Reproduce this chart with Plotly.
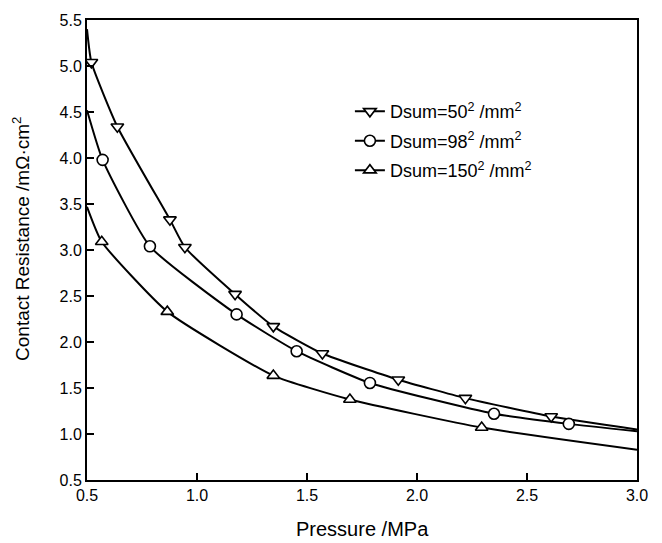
import plotly.graph_objects as go

# Series 1: Dsum=50^2 (down triangles) - curve end points and measured points
x1_curve_ends = [0.50, 3.00]
y1_curve_ends = [5.40, 1.05]
x1 = [0.52, 0.638, 0.877, 0.945, 1.173, 1.347, 1.570, 1.915, 2.22, 2.61]
y1 = [5.04, 4.34, 3.33, 3.03, 2.52, 2.17, 1.875, 1.59, 1.39, 1.19]
# Series 2: Dsum=98^2 (circles)
x2_curve_ends = [0.50, 3.00]
y2_curve_ends = [4.52, 1.03]
x2 = [0.571, 0.786, 1.18, 1.453, 1.786, 2.35, 2.69]
y2 = [3.98, 3.04, 2.30, 1.90, 1.555, 1.22, 1.11]
# Series 3: Dsum=150^2 (up triangles)
x3_curve_ends = [0.50, 3.00]
y3_curve_ends = [3.47, 0.83]
x3 = [0.567, 0.865, 1.347, 1.695, 2.294]
y3 = [3.09, 2.33, 1.635, 1.375, 1.07]

names = ["Dsum=50<sup>2</sup> /mm<sup>2</sup>",
         "Dsum=98<sup>2</sup> /mm<sup>2</sup>",
         "Dsum=150<sup>2</sup> /mm<sup>2</sup>"]
symbols = ["triangle-down", "circle", "triangle-up"]
xticks = [0.5, 1.0, 1.5, 2.0, 2.5, 3.0]
yticks = [0.5, 1.0, 1.5, 2.0, 2.5, 3.0, 3.5, 4.0, 4.5, 5.0, 5.5]

FONT = "Arial, Liberation Sans, sans-serif"
series = [(x1, y1, x1_curve_ends, y1_curve_ends),
          (x2, y2, x2_curve_ends, y2_curve_ends),
          (x3, y3, x3_curve_ends, y3_curve_ends)]

fig = go.Figure()
# curves
for xs, ys, xe, ye in series:
    fig.add_trace(go.Scatter(
        x=[xe[0]] + xs + [xe[1]], y=[ye[0]] + ys + [ye[1]],
        mode="lines", showlegend=False, hoverinfo="skip",
        line=dict(color="black", width=2, shape="spline", smoothing=0.5),
    ))
# markers
for (xs, ys, _, _), sym in zip(series, symbols):
    fig.add_trace(go.Scatter(
        x=xs, y=ys, mode="markers", showlegend=False,
        marker=dict(symbol=sym, size=11, color="white", opacity=1,
                    line=dict(color="black", width=1.6)),
    ))
# legend entries
for i, (nm, sym) in enumerate(zip(names, symbols)):
    fig.add_trace(go.Scatter(
        x=[None], y=[None], name=nm, mode="lines+markers", legendgroup=f"g{i}",
        line=dict(color="black", width=2),
        marker=dict(symbol=sym, size=11, color="white", opacity=1,
                    line=dict(color="black", width=1.6)),
    ))

fig.update_layout(
    width=662, height=543,
    margin=dict(l=87, r=25, t=18, b=63),
    paper_bgcolor="white", plot_bgcolor="white",
    font=dict(family=FONT, size=16, color="black"),
    showlegend=True,
    legend=dict(x=0.478, y=0.841, xanchor="left", yanchor="top",
                bgcolor="rgba(0,0,0,0)", font=dict(size=18),
                tracegroupgap=3),
    annotations=[
        dict(text="Contact Resistance /mΩ·cm<sup>2</sup>", xref="paper", yref="paper",
             x=-0.12, y=0.524, xanchor="center", yanchor="middle", textangle=-90,
             showarrow=False, font=dict(size=19)),
        dict(text="Pressure /MPa", xref="paper", yref="paper",
             x=0.5, y=-0.106, xanchor="center", yanchor="middle",
             showarrow=False, font=dict(size=20)),
    ],
)
fig.update_xaxes(range=[0.5, 3.0], tickvals=xticks, ticktext=[f"{v:.1f}" for v in xticks],
                 ticks="inside", ticklen=7, tickwidth=2, tickcolor="black",
                 showline=True, linewidth=2, linecolor="black", mirror=True,
                 showgrid=False, zeroline=False, tickfont=dict(size=16))
fig.update_yaxes(range=[0.5, 5.5], tickvals=yticks, ticktext=[f"{v:.1f}" for v in yticks],
                 ticks="inside", ticklen=7, tickwidth=2, tickcolor="black",
                 showline=True, linewidth=2, linecolor="black", mirror=True,
                 showgrid=False, zeroline=False, tickfont=dict(size=16))

fig.write_html("out.html")
